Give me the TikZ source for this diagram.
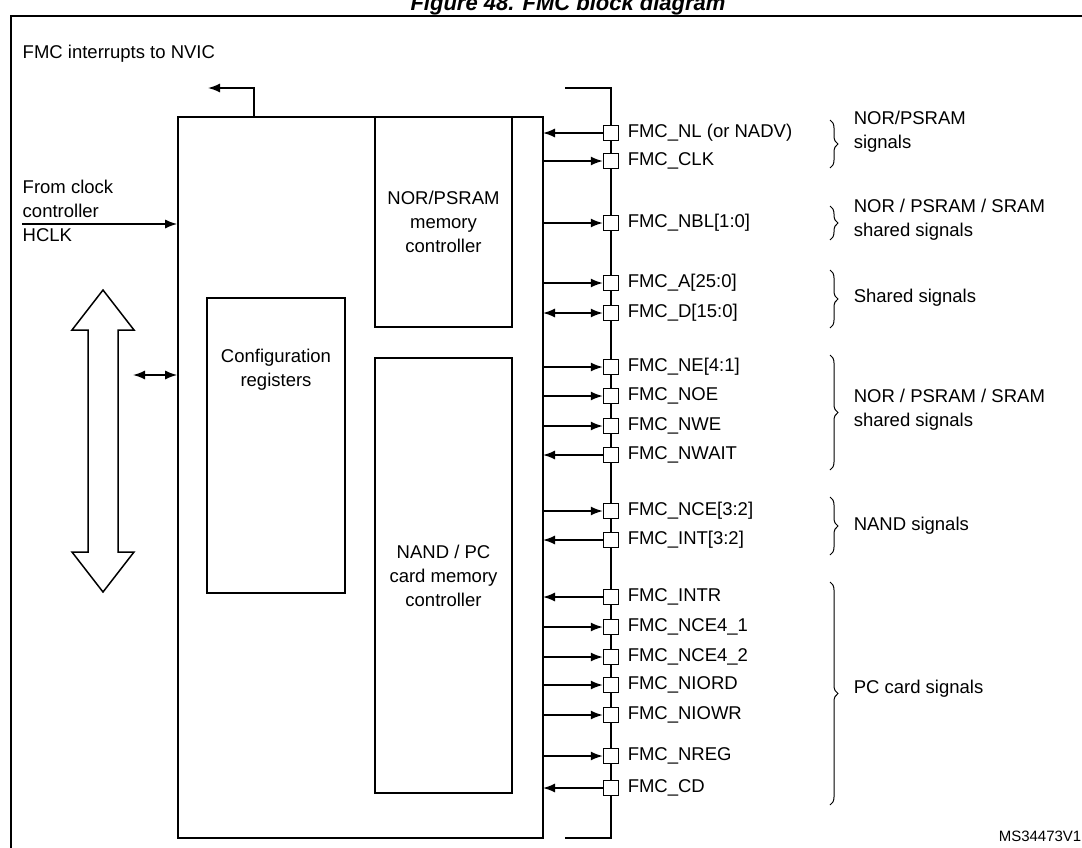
\documentclass[tikz,border=0pt]{standalone}
\usepackage{fontspec}
\setmainfont{Liberation Sans}
\usetikzlibrary{arrows.meta, positioning, decorations.pathreplacing}

\tikzset{
  every path/.style={line width=1.5pt},
  blk/.style={draw, line width=1.6pt, inner sep=0pt},
  pin/.style={draw, line width=1.4pt, fill=white, minimum size=15pt, inner sep=0pt},
  sig/.style={anchor=west, inner sep=0pt, font=\fontsize{18.5}{20}\selectfont},
  txt/.style={anchor=west, inner sep=0pt, align=left, font=\fontsize{18.5}{24}\selectfont},
  tip/.style={-{Latex[length=12pt,width=9pt]}},
  tips/.style={{Latex[length=12pt,width=9pt]}-{Latex[length=12pt,width=9pt]}},
  grp/.style={decorate, decoration={brace, amplitude=8pt}, line width=1pt}
}

\begin{document}
\begin{tikzpicture}[x=1pt,y=-1pt]
\useasboundingbox (0,0) rectangle (1082,847);
\draw (11,860) -- (11,16) -- (1090,16);
\node[font=\bfseries\itshape\fontsize{22}{24}\selectfont, inner sep=0pt] (title) at (568,5) {Figure 48. FMC block diagram};

% main block and inner boxes
\node[blk, minimum width=365pt, minimum height=721pt] (fmc) at (360.5,477.5) {};
\node[blk, minimum width=137pt, minimum height=210pt, align=center, font=\fontsize{18.5}{24}\selectfont] (nor) at (443.5,222) {NOR/PSRAM\\memory\\controller};
\node[blk, minimum width=137pt, minimum height=435pt, align=center, font=\fontsize{18.5}{24}\selectfont] (nand) at (443.5,575.5) {NAND / PC\\card memory\\controller};
\node[blk, minimum width=138pt, minimum height=295pt] (cfg) at (276,445.5) {};
\node[align=center, font=\fontsize{18.5}{24}\selectfont] (cfgtxt) at (276,370) {Configuration\\registers};

% interrupts
\coordinate (irqtop) at (254,88);
\coordinate (irqend) at (208,88);
\draw[tip] (fmc.north -| irqtop) -- (irqtop) -- (irqend);
\node[txt] (irq) at (22,54) {FMC interrupts to NVIC};

% clock
\node[txt] (clk) at (22,211) {From clock\\controller\\HCLK};
\coordinate (clkin) at (22,224);
\draw[tip] (clkin) -- (clkin -| fmc.west);

% system bus
\draw (103,290) -- (134,330) -- (118,330) -- (118,552) -- (134,552) -- (103,592)
  -- (72,552) -- (88,552) -- (88,330) -- (72,330) -- cycle;
\coordinate (ahbr) at (133,375);
\draw[tips] (ahbr) -- (ahbr -| fmc.west);

% pin bus
\draw (565,88) -- (611,88) -- (611,838) -- (565,838);

% signals: y / name / direction
\foreach \y/\n/\t/\d in {133/nl/FMC\_NL (or NADV)/in, 161/clk/FMC\_CLK/out, 223/nbl/FMC\_NBL[1:0]/out,
  283/a/FMC\_A[25:0]/out, 313/d/FMC\_D[15:0]/both, 367/ne/FMC\_NE[4:1]/out, 396/noe/FMC\_NOE/out,
  426/nwe/FMC\_NWE/out, 455/nwait/FMC\_NWAIT/in, 511/nce/FMC\_NCE[3:2]/out, 540/int/FMC\_INT[3:2]/in,
  597/intr/FMC\_INTR/in, 627/ncea/FMC\_NCE4\_1/out, 657/nceb/FMC\_NCE4\_2/out, 685/niord/FMC\_NIORD/out,
  715/niowr/FMC\_NIOWR/out, 756/nreg/FMC\_NREG/out, 788/cd/FMC\_CD/in}{
  \node[pin] (p\n) at (611,\y) {};
  \node[sig] (s\n) at (627,\y) {\t};
  \coordinate (b\n) at (543,\y);
  \ifnum\pdfstrcmp{\d}{in}=0
    \draw[tip] (p\n.west) -- (b\n);
  \else\ifnum\pdfstrcmp{\d}{out}=0
    \draw[tip] (b\n) -- (p\n.west);
  \else
    \draw[tips] (b\n) -- (p\n.west);
  \fi\fi
}

% groups
\draw[grp] (830,120) -- (830,168);
\node[txt] (g1) at (853,132) {NOR/PSRAM\\signals};
\draw[grp] (830,206) -- (830,240);
\node[txt] (g2) at (853,220) {NOR / PSRAM / SRAM\\shared signals};
\draw[grp] (830,270) -- (830,328);
\node[txt] (g3) at (853,298) {Shared signals};
\draw[grp] (830,355) -- (830,470);
\node[txt] (g4) at (853,410) {NOR / PSRAM / SRAM\\shared signals};
\draw[grp] (830,497) -- (830,555);
\node[txt] (g5) at (853,526) {NAND signals};
\draw[grp] (830,582) -- (830,805);
\node[txt] (g6) at (853,689) {PC card signals};

\node[anchor=west, inner sep=0pt, font=\fontsize{15}{17}\selectfont] (ref) at (998,836) {MS34473V1};
\end{tikzpicture}
\end{document}
